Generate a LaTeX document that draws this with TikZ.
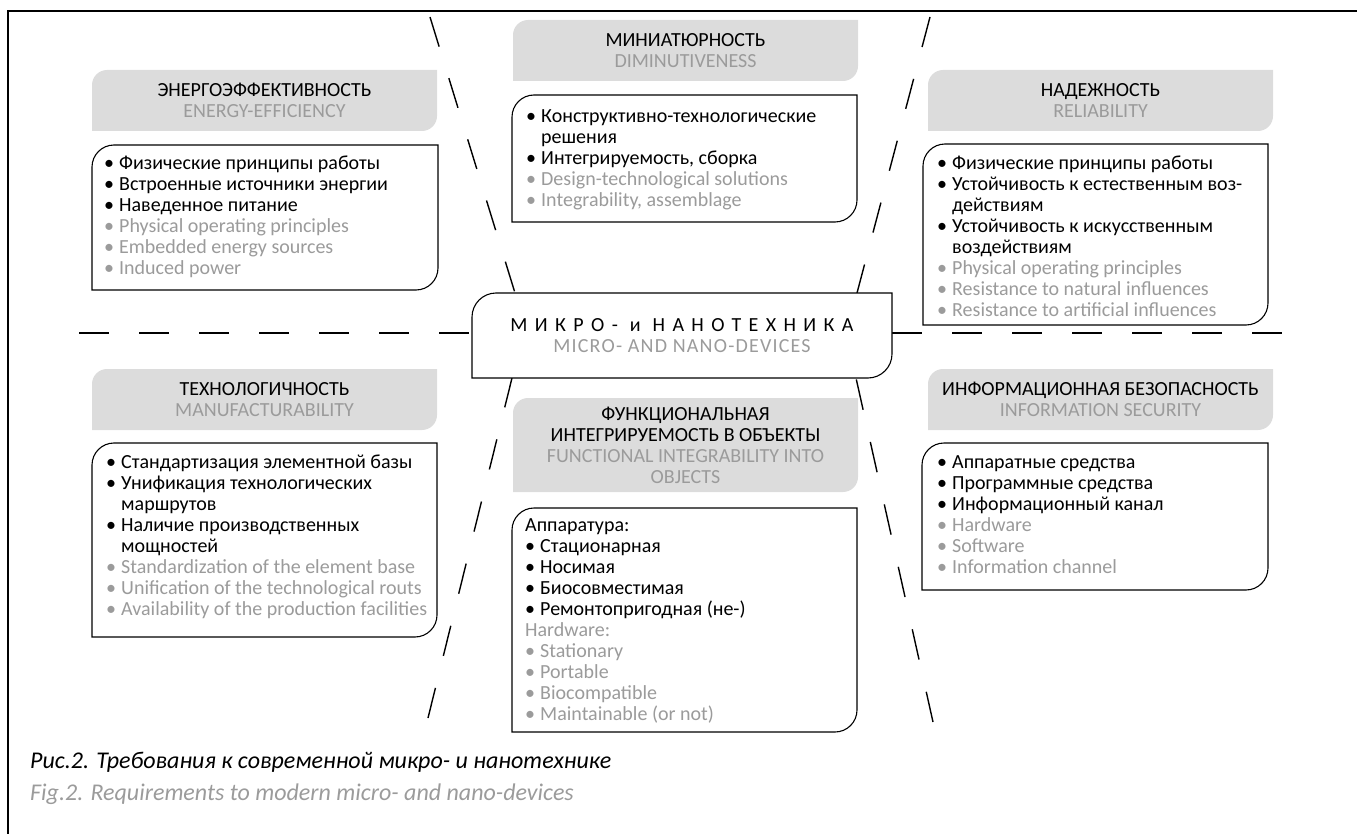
\documentclass[tikz,border=0pt]{standalone}
\usepackage{fontspec}
\setmainfont{Carlito}
\usepackage{xcolor}
\definecolor{engray}{HTML}{9B9B9B}
\definecolor{headgray}{HTML}{DCDCDC}

\newcommand{\bodyfont}{\fontsize{20}{21}\selectfont}
\newcommand{\itemru}[1]{\strut\makebox[15pt][l]{\textbullet}#1}
\newcommand{\itemen}[1]{\strut\textcolor{engray}{\makebox[15pt][l]{\textbullet}#1}}
\newcommand{\itemcont}[1]{\strut\hspace*{15pt}#1}
% box with rounded top-left and bottom-right corners
\newcommand{\tabpath}[2]{(#1.south west) -- ([yshift=-#2]#1.north west)
  .. controls ([yshift=-0.45*#2]#1.north west) and ([xshift=0.45*#2]#1.north west) .. ([xshift=#2]#1.north west)
  -- (#1.north east) -- ([yshift=#2]#1.south east)
  .. controls ([yshift=0.45*#2]#1.south east) and ([xshift=-0.45*#2]#1.south east) .. ([xshift=-#2]#1.south east)
  -- cycle}

\tikzset{
  slot/.style={anchor=north west, inner sep=0pt, outer sep=0pt, draw=none},
  cardline/.style={fill=white, draw=black, line width=1.1pt},
  hdiv/.style={line width=1.8pt, dash pattern=on 30pt off 30pt},
  sdiv/.style={line width=1.4pt, dash pattern=on 31pt off 33pt},
  headtxt/.style={align=center, inner sep=0pt, font=\bodyfont},
  itemtxt/.style={anchor=north west, align=left, inner sep=0pt, font=\bodyfont},
  captxt/.style={anchor=base west, inner sep=0pt, font=\fontsize{24}{26}\selectfont\itshape}
}

\begin{document}
\begin{tikzpicture}[x=1pt,y=-1pt]
  \useasboundingbox (0,0) rectangle (1357,834);
  \draw[line width=1.6pt] (1357,11) -- (8,11) -- (8,834);

  % places of the boxes
  \node[slot, minimum width=345, minimum height=61] (enhead) at (92,70) {};
  \node[slot, minimum width=346, minimum height=145] (enbox) at (92,145) {};
  \node[slot, minimum width=345, minimum height=61] (minihead) at (513,20) {};
  \node[slot, minimum width=345, minimum height=127] (minibox) at (512,95) {};
  \node[slot, minimum width=345, minimum height=61] (relhead) at (928,70) {};
  \node[slot, minimum width=345, minimum height=181] (relbox) at (923,144) {};
  \node[slot, minimum width=345, minimum height=61] (techhead) at (92,369) {};
  \node[slot, minimum width=345, minimum height=194] (techbox) at (92,443) {};
  \node[slot, minimum width=345, minimum height=94] (funchead) at (513,398) {};
  \node[slot, minimum width=345, minimum height=224] (funcbox) at (512,508) {};
  \node[slot, minimum width=345, minimum height=61] (infohead) at (928,369) {};
  \node[slot, minimum width=346, minimum height=147] (infobox) at (922,443) {};
  \node[slot, minimum width=420, minimum height=85] (core) at (472,293) {};

  % dashed dividers
  \coordinate (hl) at (79,333);
  \coordinate (hr) at (1283,333);
  \coordinate (ul) at (430,17);
  \coordinate (ur) at (930,17);
  \coordinate (ll) at (428,718);
  \coordinate (lr) at (933,722);
  \draw[hdiv] (hl) -- (hl -| core.west);
  \draw[hdiv] (hr -| core.east) -- (hr);
  \draw[sdiv] (ul) -- ([xshift=43]core.north west);
  \draw[sdiv] (ur) -- ([xshift=-35]core.north east);
  \draw[sdiv] (ll) -- ([xshift=40]core.south west);
  \draw[sdiv] (lr) -- ([xshift=-36]core.south east);

  \fill[headgray] \tabpath{enhead}{15};
  \fill[headgray] \tabpath{minihead}{15};
  \fill[headgray] \tabpath{relhead}{15};
  \fill[headgray] \tabpath{techhead}{15};
  \fill[headgray] \tabpath{funchead}{15};
  \fill[headgray] \tabpath{infohead}{15};
  \draw[cardline] \tabpath{enbox}{22};
  \draw[cardline] \tabpath{minibox}{22};
  \draw[cardline] \tabpath{relbox}{22};
  \draw[cardline] \tabpath{techbox}{22};
  \draw[cardline] \tabpath{funcbox}{22};
  \draw[cardline] \tabpath{infobox}{22};
  \draw[cardline] \tabpath{core}{24};

  % headings
  \node[headtxt] (entitle) at (enhead.center) {ЭНЕРГОЭФФЕКТИВНОСТЬ\\\textcolor{engray}{ENERGY-EFFICIENCY}};
  \node[headtxt] (minititle) at (minihead.center) {МИНИАТЮРНОСТЬ\\\textcolor{engray}{DIMINUTIVENESS}};
  \node[headtxt] (reltitle) at (relhead.center) {НАДЕЖНОСТЬ\\\textcolor{engray}{RELIABILITY}};
  \node[headtxt] (techtitle) at (techhead.center) {ТЕХНОЛОГИЧНОСТЬ\\\textcolor{engray}{MANUFACTURABILITY}};
  \node[headtxt] (functitle) at (funchead.center) {ФУНКЦИОНАЛЬНАЯ\\ИНТЕГРИРУЕМОСТЬ В ОБЪЕКТЫ\\\textcolor{engray}{FUNCTIONAL INTEGRABILITY INTO}\\\textcolor{engray}{OBJECTS}};
  \node[headtxt] (infotitle) at (infohead.center) {ИНФОРМАЦИОННАЯ БЕЗОПАСНОСТЬ\\\textcolor{engray}{INFORMATION SECURITY}};
  \node[headtxt] (coretitle) at (core.center) {{\addfontfeatures{LetterSpace=37}МИКРО- и НАНОТЕХНИКА}\\{\addfontfeatures{LetterSpace=6}\color{engray}MICRO- AND NANO-DEVICES}};

  % lists
  \node[itemtxt] (enlist) at (104,154.4) {\itemru{Физические принципы работы}\\
    \itemru{Встроенные источники энергии}\\
    \itemru{Наведенное питание}\\
    \itemen{Physical operating principles}\\
    \itemen{Embedded energy sources}\\
    \itemen{Induced power}};
  \node[itemtxt] (minilist) at (526,107.4) {\itemru{Конструктивно-технологические}\\
    \itemcont{решения}\\
    \itemru{Интегрируемость, сборка}\\
    \itemen{Design-technological solutions}\\
    \itemen{Integrability, assemblage}};
  \node[itemtxt] (rellist) at (937,154.4) {\itemru{Физические принципы работы}\\
    \itemru{Устойчивость к естественным воз-}\\
    \itemcont{действиям}\\
    \itemru{Устойчивость к искусственным}\\
    \itemcont{воздействиям}\\
    \itemen{Physical operating principles}\\
    \itemen{Resistance to natural influences}\\
    \itemen{Resistance to artificial influences}};
  \node[itemtxt] (techlist) at (106,453.4) {\itemru{Стандартизация элементной базы}\\
    \itemru{Унификация технологических}\\
    \itemcont{маршрутов}\\
    \itemru{Наличие производственных}\\
    \itemcont{мощностей}\\
    \itemen{Standardization of the element base}\\
    \itemen{Unification of the technological routs}\\
    \itemen{Availability of the production facilities}};
  \node[itemtxt] (funclist) at (525,516.4) {\strut Аппаратура:\\
    \itemru{Стационарная}\\
    \itemru{Носимая}\\
    \itemru{Биосовместимая}\\
    \itemru{Ремонтопригодная (не-)}\\
    \strut\textcolor{engray}{Hardware:}\\
    \itemen{Stationary}\\
    \itemen{Portable}\\
    \itemen{Biocompatible}\\
    \itemen{Maintainable (or not)}};
  \node[itemtxt] (infolist) at (937,453.4) {\itemru{Аппаратные средства}\\
    \itemru{Программные средства}\\
    \itemru{Информационный канал}\\
    \itemen{Hardware}\\
    \itemen{Software}\\
    \itemen{Information channel}};

  % caption
  \node[captxt] (capru) at (30,768) {Рис.2. Требования к современной микро- и нанотехнике};
  \node[captxt, text=engray] (capen) at (30,800) {Fig.2. Requirements to modern micro- and nano-devices};
\end{tikzpicture}
\end{document}
